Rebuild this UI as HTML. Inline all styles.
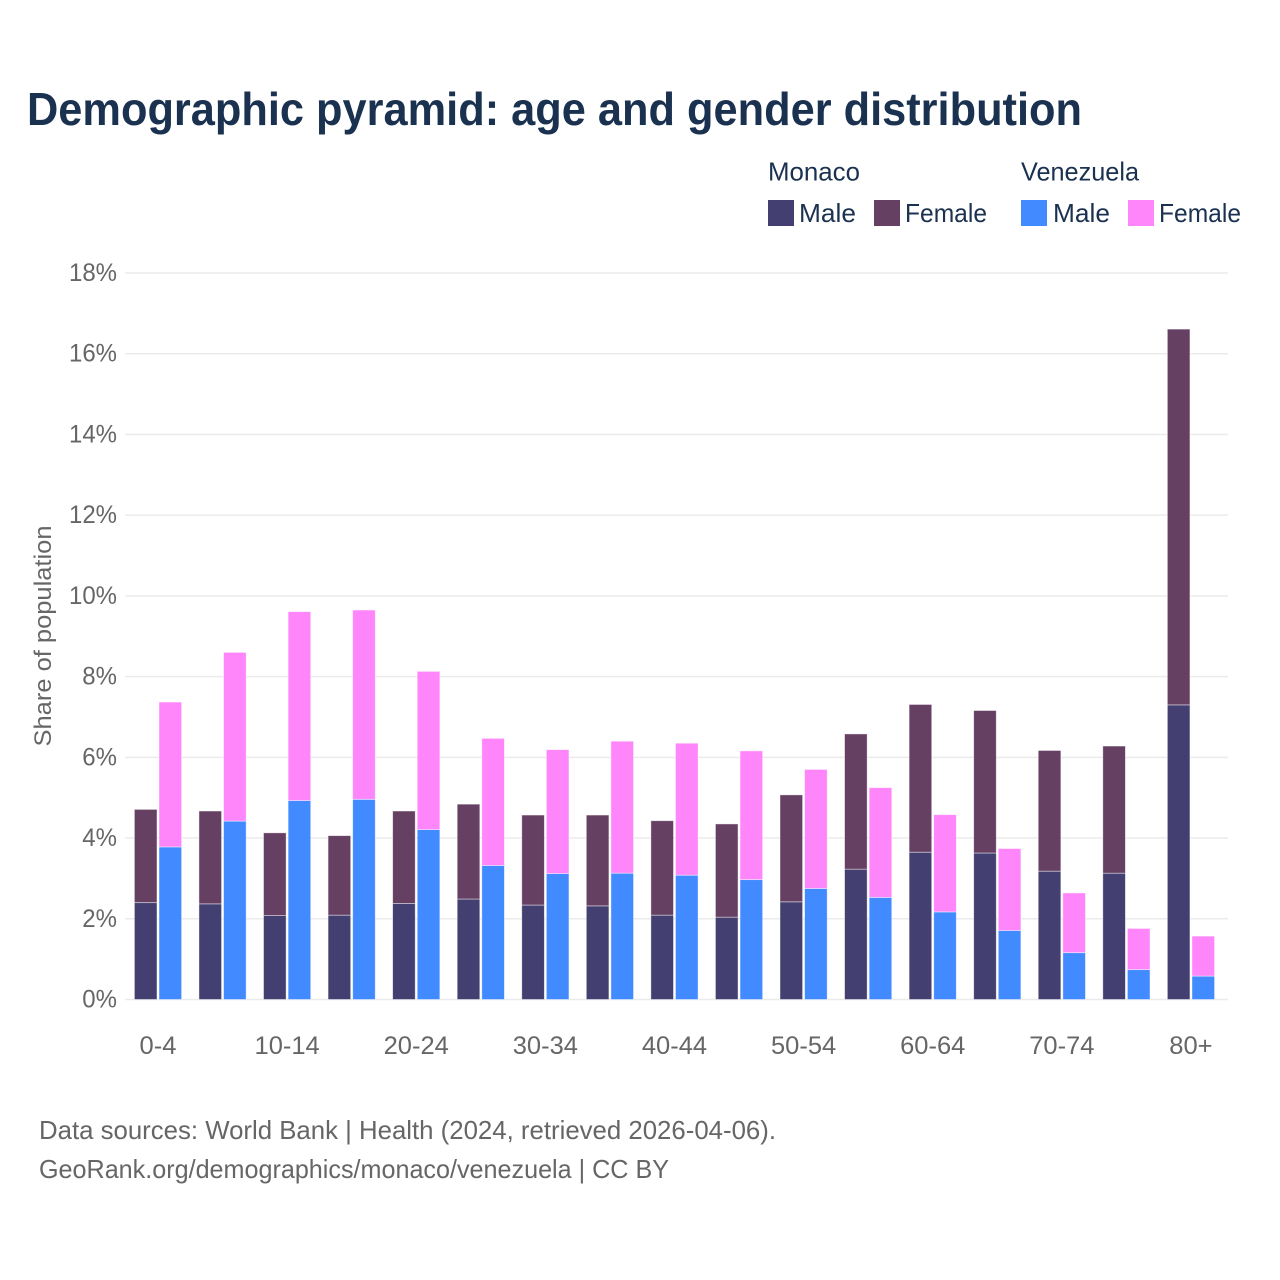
<!DOCTYPE html>
<html lang="en">
<head>
<meta charset="utf-8">
<title>Demographic pyramid: age and gender distribution</title>
<style>
  html, body { margin: 0; padding: 0; background: #fff; }
  svg { display: block; font-family: "Liberation Sans", sans-serif; }
</style>
</head>
<body>
<svg id="chart" xmlns="http://www.w3.org/2000/svg" width="1280" height="1280" viewBox="0 0 1280 1280">
  <rect x="0" y="0" width="1280" height="1280" fill="#ffffff"/>
  <text x="27" y="125" font-size="46" font-weight="700" fill="#1a3150" textLength="1055" lengthAdjust="spacingAndGlyphs">Demographic pyramid: age and gender distribution</text>

  <g font-size="26" fill="#1a3150">
    <text x="768" y="180.5" textLength="92" lengthAdjust="spacingAndGlyphs">Monaco</text>
    <text x="1021" y="180.5" textLength="118" lengthAdjust="spacingAndGlyphs">Venezuela</text>
    <g>
      <rect x="768" y="200" width="26" height="26" fill="#433f70"/>
      <text x="799" y="222" textLength="57" lengthAdjust="spacingAndGlyphs">Male</text>
    </g>
    <g>
      <rect x="874" y="200" width="26" height="26" fill="#664063"/>
      <text x="905" y="222" textLength="82" lengthAdjust="spacingAndGlyphs">Female</text>
    </g>
    <g>
      <rect x="1021" y="200" width="26" height="26" fill="#418aff"/>
      <text x="1053" y="222" textLength="57" lengthAdjust="spacingAndGlyphs">Male</text>
    </g>
    <g>
      <rect x="1128" y="200" width="26" height="26" fill="#ff85fb"/>
      <text x="1159" y="222" textLength="82" lengthAdjust="spacingAndGlyphs">Female</text>
    </g>
  </g>

  <g id="grid"></g>
  <g id="y-ticks"></g>
  <g id="bars"></g>
  <g id="x-ticks"></g>

  <text transform="translate(51,636) rotate(-90)" text-anchor="middle" font-size="24" fill="#666666" textLength="221" lengthAdjust="spacingAndGlyphs">Share of population</text>

  <text x="39" y="1139" font-size="26" fill="#666666" textLength="737" lengthAdjust="spacingAndGlyphs">Data sources: World Bank | Health (2024, retrieved 2026-04-06).</text>
  <text x="39" y="1178" font-size="26" fill="#666666" textLength="630" lengthAdjust="spacingAndGlyphs">GeoRank.org/demographics/monaco/venezuela | CC BY</text>
</svg>

<script>
const categories = ["0-4","5-9","10-14","15-19","20-24","25-29","30-34","35-39","40-44","45-49","50-54","55-59","60-64","65-69","70-74","75-79","80+"];
const monacoMale = [2.40,2.37,2.08,2.09,2.38,2.49,2.34,2.32,2.09,2.04,2.42,3.23,3.65,3.63,3.18,3.13,7.30];
const monacoFemale = [2.31,2.30,2.05,1.97,2.29,2.35,2.23,2.25,2.34,2.31,2.65,3.35,3.66,3.53,2.99,3.15,9.31];
const venezuelaMale = [3.78,4.42,4.93,4.96,4.21,3.32,3.12,3.13,3.08,2.97,2.75,2.53,2.17,1.71,1.16,0.74,0.58];
const venezuelaFemale = [3.59,4.18,4.68,4.69,3.92,3.15,3.07,3.27,3.27,3.19,2.95,2.72,2.41,2.03,1.48,1.02,0.99];
const yTickValues = [0,2,4,6,8,10,12,14,16,18];
const yTickLabels = ["0%","2%","4%","6%","8%","10%","12%","14%","16%","18%"];
const xTickLabels = ["0-4","10-14","20-24","30-34","40-44","50-54","60-64","70-74","80+"];

const NS = "http://www.w3.org/2000/svg";
const plotLeft = 125, plotRight = 1228;
const yBase = 999.5, yPerUnit = 40.36;
const xFirst = 158, xStep = 64.56;
const barW = 22.6, barGap = 1;
const yLabelSqueeze = 0.96, xLabelSqueeze = 1.02;

function yScale(v) { return yBase - v * yPerUnit; }
function xScale(i) { return xFirst + i * xStep; }

function addText(parent, str, x, y, anchor, squeeze) {
  const t = document.createElementNS(NS, "text");
  t.setAttribute("x", x);
  t.setAttribute("y", y);
  t.setAttribute("text-anchor", anchor);
  t.setAttribute("font-size", "25");
  t.setAttribute("fill", "#666666");
  t.textContent = str;
  parent.appendChild(t);
  t.setAttribute("textLength", (t.getComputedTextLength() * squeeze).toFixed(1));
  t.setAttribute("lengthAdjust", "spacingAndGlyphs");
  return t;
}

function addBar(parent, x, v0, v1, fill) {
  const r = document.createElementNS(NS, "rect");
  const top = yScale(v1), bottom = yScale(v0);
  r.setAttribute("x", x.toFixed(2));
  r.setAttribute("y", top.toFixed(2));
  r.setAttribute("width", barW);
  r.setAttribute("height", (bottom - top).toFixed(2));
  r.setAttribute("fill", fill);
  r.setAttribute("stroke", "#ffffff");
  r.setAttribute("stroke-opacity", "0.55");
  r.setAttribute("stroke-width", "0.8");
  parent.appendChild(r);
  return r;
}

const gridG = document.getElementById("grid");
const yTickG = document.getElementById("y-ticks");
yTickValues.forEach(function (v, i) {
  const l = document.createElementNS(NS, "line");
  
  
  l.setAttribute("x1", plotLeft);
  l.setAttribute("x2", plotRight);
  l.setAttribute("y1", yScale(v));
  l.setAttribute("y2", yScale(v));
  l.setAttribute("stroke", "#ebebeb");
  l.setAttribute("stroke-width", "1.5");
  gridG.appendChild(l);
  const t = addText(yTickG, yTickLabels[i], 117, yScale(v) + 8, "end", yLabelSqueeze);
  
  
});

const barsG = document.getElementById("bars");
categories.forEach(function (c, i) {
  const leftX = xScale(i) - barGap - barW;
  const rightX = xScale(i) + barGap;
  const r1 = addBar(barsG, leftX, 0, monacoMale[i], "#433f70");
  
  
  const r2 = addBar(barsG, leftX, monacoMale[i], monacoMale[i] + monacoFemale[i], "#664063");
  
  
  const r3 = addBar(barsG, rightX, 0, venezuelaMale[i], "#418aff");
  
  
  const r4 = addBar(barsG, rightX, venezuelaMale[i], venezuelaMale[i] + venezuelaFemale[i], "#ff85fb");
  
  
});

const xTickG = document.getElementById("x-ticks");
xTickLabels.forEach(function (label) {
  const i = categories.indexOf(label);
  const t = addText(xTickG, label, xScale(i), 1054, "middle", xLabelSqueeze);
  
  
});
</script>
</body>
</html>
